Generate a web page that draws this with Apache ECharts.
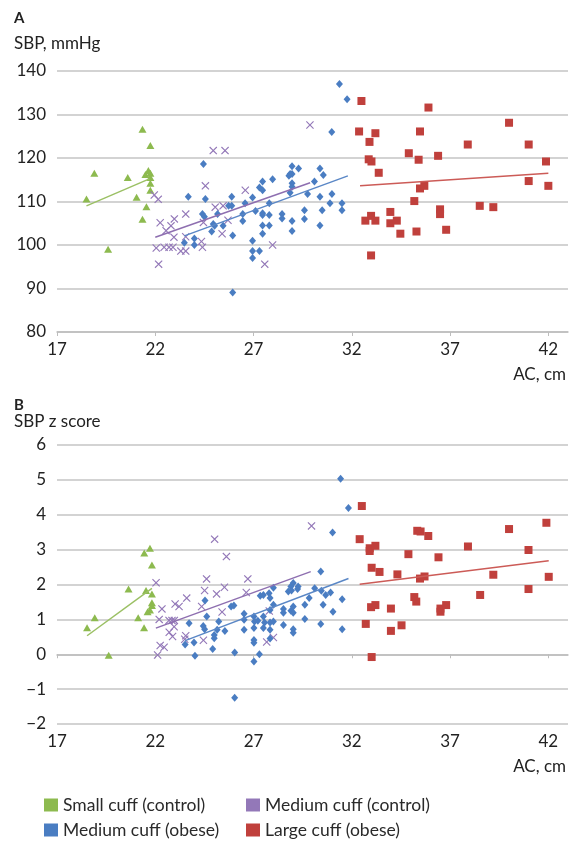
<!DOCTYPE html>
<html><head><meta charset="utf-8">
<script src="https://cdn.jsdelivr.net/npm/echarts@6/dist/echarts.min.js"></script>
<style>html,body{margin:0;padding:0;background:#fff}#c{width:582px;height:842px}</style>
</head><body><div id="c"></div>
<script>
// ---------- categories / tick labels ----------
const groupNames = ['Small cuff (control)', 'Medium cuff (control)', 'Medium cuff (obese)', 'Large cuff (obese)'];
const xTicks = [17, 22, 27, 32, 37, 42];
const sbpTicks = [80, 90, 100, 110, 120, 130, 140];
const zTicks = [-2, -1, 0, 1, 2, 3, 4, 5, 6];

// ---------- Panel A: SBP, mmHg ----------
const smallA = [[18.5,110.6],[18.9,116.5],[19.6,99.0],[20.6,115.5],[21.05,111.0],[21.35,126.6],[21.35,105.9],[21.5,116.2],[21.55,108.8],[21.65,117.1],[21.75,122.9],[21.75,116.5],[21.75,115.5],[21.75,114.2],[21.75,112.6]];
const medCtrlA = [[21.95,111.5],[22.15,110.5],[22.05,99.3],[22.17,95.6],[22.25,105.1],[22.45,99.5],[22.55,103.3],[22.7,99.5],[22.8,104.4],[22.9,99.5],[22.95,101.8],[22.97,106.0],[23.3,98.6],[23.55,98.6],[23.55,107.1],[23.55,101.9],[24.35,100.8],[24.4,99.5],[24.45,105.2],[24.55,113.6],[24.95,121.7],[25.55,121.7],[25.05,108.7],[25.45,109.0],[25.4,102.6],[25.7,105.7],[26.58,112.6],[27.97,100.0],[27.57,95.6],[29.87,127.6]];
const medObA = [[23.48,100.5],[23.68,111.1],[23.99,101.5],[23.99,100.0],[24.4,107.1],[24.5,106.5],[24.45,118.6],[24.55,110.6],[24.87,103.1],[24.95,104.8],[25.02,104.4],[25.17,107.1],[25.45,104.4],[25.73,109.0],[25.89,109.0],[25.89,111.1],[25.94,102.2],[25.94,89.1],[26.45,107.1],[26.45,105.5],[26.57,109.6],[26.95,110.9],[26.95,101.0],[26.95,98.6],[26.95,97.0],[27.1,107.8],[27.3,98.6],[27.3,113.2],[27.46,114.6],[27.46,112.6],[27.46,107.3],[27.46,106.9],[27.46,104.5],[27.46,102.6],[27.8,109.6],[27.8,106.9],[27.8,104.5],[27.97,115.1],[28.45,107.1],[28.45,106.1],[28.8,115.9],[28.86,116.3],[28.96,116.3],[28.96,118.1],[29.29,117.6],[28.96,114.2],[28.96,113.4],[28.86,112.0],[28.96,105.5],[28.96,103.2],[29.59,108.0],[29.59,106.0],[29.75,111.7],[30.1,114.6],[30.38,117.6],[30.55,116.1],[30.38,111.1],[30.49,108.0],[30.38,104.5],[30.89,109.6],[30.99,111.7],[30.98,126.0],[31.37,137.0],[31.76,133.5],[31.5,109.6],[31.5,108.0]];
const largeA = [[32.49,133.1],[35.9,131.6],[32.37,126.1],[33.2,125.7],[32.9,123.7],[35.47,126.1],[40.0,128.1],[37.9,123.1],[41.0,123.1],[32.86,119.7],[33.0,119.2],[34.9,121.1],[35.4,119.6],[36.39,120.5],[41.88,119.2],[33.37,116.6],[35.47,113.0],[35.69,113.6],[41.0,114.7],[42.0,113.6],[35.18,110.1],[38.51,109.0],[39.2,108.7],[36.49,108.2],[36.49,107.1],[32.69,105.6],[32.98,106.7],[33.2,105.6],[33.96,107.6],[33.96,105.0],[34.29,105.6],[34.47,102.6],[35.29,103.1],[36.8,103.5],[32.98,97.6]];
const smallTrendA = [[18.5,109.0],[21.7,115.2]];
const medCtrlTrendA = [[22.0,101.8],[29.88,114.3]];
const medObTrendA = [[23.48,102.1],[31.8,115.9]];
const largeTrendA = [[32.42,113.6],[42.0,116.5]];

// ---------- Panel B: SBP z score ----------
const smallB = [[21.73,3.04],[21.44,2.90],[21.83,2.56],[20.64,1.87],[21.53,1.83],[21.83,1.73],[21.83,1.48],[21.83,1.40],[21.73,1.27],[21.61,1.22],[18.92,1.05],[21.13,1.05],[18.53,0.76],[21.43,0.76],[19.63,-0.03]];
const medCtrlB = [[22.04,2.05],[22.12,-0.02],[22.2,1.0],[22.25,0.25],[22.45,0.20],[22.34,1.30],[22.7,0.97],[22.85,0.97],[22.97,0.97],[22.96,0.79],[22.71,0.63],[22.88,0.51],[23.01,1.44],[23.21,1.37],[23.55,0.53],[23.5,0.43],[23.6,1.61],[24.36,1.37],[24.45,0.40],[24.51,1.83],[24.61,2.16],[25.02,3.30],[25.62,2.80],[25.12,1.73],[25.52,1.92],[25.4,1.21],[26.63,1.77],[26.71,2.16],[27.8,1.24],[27.67,0.35],[28.01,0.48],[29.95,3.68]];
const medObB = [[23.52,0.28],[23.72,0.89],[23.97,0.34],[24.02,-0.04],[24.44,0.81],[24.51,0.72],[24.53,1.54],[24.62,1.08],[24.92,0.15],[25.0,0.55],[25.0,0.46],[25.15,0.70],[25.23,0.94],[25.54,0.67],[25.86,1.37],[26.0,1.40],[26.04,0.05],[26.04,-1.25],[26.52,1.16],[26.52,0.99],[26.52,0.70],[27.02,1.08],[27.05,0.94],[27.02,0.75],[27.02,0.41],[27.02,0.33],[27.02,-0.21],[27.3,0.0],[27.22,0.96],[27.34,1.68],[27.5,1.70],[27.5,1.08],[27.56,0.91],[27.5,0.75],[27.79,1.75],[27.84,1.61],[27.84,1.27],[27.84,0.91],[27.84,0.70],[27.84,0.45],[28.01,1.91],[28.01,1.42],[28.01,0.94],[28.52,1.30],[28.52,1.19],[28.52,0.84],[28.77,1.80],[28.9,1.94],[28.93,1.83],[29.02,2.04],[29.27,1.94],[29.24,1.87],[28.9,1.25],[29.02,1.37],[29.02,1.19],[29.02,0.72],[29.02,0.62],[29.61,1.42],[29.61,1.01],[29.83,1.61],[30.11,1.89],[30.42,2.37],[30.45,1.82],[30.67,1.70],[30.92,1.77],[30.54,1.42],[30.42,0.87],[31.02,3.49],[31.04,1.22],[31.43,5.03],[31.83,4.19],[31.51,1.58],[31.51,0.72]];
const largeB = [[32.51,4.25],[32.4,3.30],[32.91,3.04],[32.91,2.96],[33.2,3.11],[33.01,2.48],[33.41,2.36],[34.32,2.29],[34.88,2.87],[35.33,3.54],[35.5,3.52],[35.89,3.39],[36.41,2.78],[35.47,2.17],[35.7,2.23],[37.91,3.09],[40.0,3.59],[41.9,3.77],[40.99,2.99],[39.2,2.28],[42.02,2.22],[38.53,1.70],[40.99,1.87],[35.18,1.64],[35.28,1.51],[36.51,1.31],[36.51,1.22],[36.8,1.41],[32.98,1.35],[33.2,1.41],[33.99,1.31],[32.71,0.87],[33.99,0.67],[34.53,0.83],[33.01,-0.08]];
const smallTrendB = [[18.53,0.53],[21.83,1.89]];
const medCtrlTrendB = [[22.03,0.75],[29.91,2.37]];
const medObTrendB = [[23.52,0.39],[31.83,2.17]];
const largeTrendB = [[32.4,2.01],[42.02,2.68]];

// ---------- styling ----------
const FONT = 'Lato';
const colors = ['#8DBA4F', '#9378B8', '#4A7DC2', '#C0403C'];
const trendColors = ['#9BC064', '#8E6FB0', '#5A87C6', '#CC5B57'];
const xPath = 'path://M0,1L1,0L5,4L9,0L10,1L6,5L10,9L9,10L5,6L1,10L0,9L4,5Z';
const symbols = ['triangle', xPath, 'diamond', 'rect'];
const symbolSizes = [[8,7], 8, [7,8], 8];

function xAxisCfg(gridIndex) {
  return {
    type: 'value', gridIndex, min: 17, max: 43, interval: 5,
    axisLine: { show: true, lineStyle: { color: '#BDBDBD', width: 1.5 } },
    axisTick: { show: true, customValues: xTicks, length: 4, inside: false, lineStyle: { color: '#BDBDBD', width: 1 } },
    axisLabel: { customValues: xTicks, margin: 9, fontFamily: FONT, fontSize: 17, color: '#222' },
    splitLine: { show: false }
  };
}
function yAxisCfg(gridIndex, min, max, interval, ticks) {
  return {
    type: 'value', gridIndex, min, max, interval,
    axisLine: { show: false }, axisTick: { show: false },
    axisLabel: { customValues: ticks, margin: 11, fontFamily: FONT, fontSize: 17, color: '#222',
      formatter: v => String(v).replace('-', '\u2212') },
    splitLine: { show: true, lineStyle: { color: '#C4C4C4', width: 1.5 } }
  };
}

const dataA = [smallA, medCtrlA, medObA, largeA];
const dataB = [smallB, medCtrlB, medObB, largeB];
const trendA = [smallTrendA, medCtrlTrendA, medObTrendA, largeTrendA];
const trendB = [smallTrendB, medCtrlTrendB, medObTrendB, largeTrendB];

const series = [];
[dataA, dataB].forEach((panel, p) => {
  panel.forEach((d, i) => {
    series.push({
      type: 'scatter', name: groupNames[i], xAxisIndex: p, yAxisIndex: p, data: d,
      symbol: symbols[i], symbolSize: symbolSizes[i],
      itemStyle: { color: colors[i], opacity: 1 }, z: 2
    });
  });
});
[trendA, trendB].forEach((panel, p) => {
  panel.forEach((d, i) => {
    series.push({
      type: 'line', name: 'trend' + p + i, xAxisIndex: p, yAxisIndex: p, data: d,
      showSymbol: false, symbol: 'none', silent: true,
      lineStyle: { color: trendColors[i], width: 1.5 }, z: 3
    });
  });
});

// legend: 2 columns x 2 rows
const legendPos = [[44, 796], [246, 796], [44, 821], [246, 821]];
const legends = [0, 1, 2, 3].map((gi, k) => ({
  left: legendPos[k][0], top: legendPos[k][1], itemWidth: 14, itemHeight: 13, selectedMode: false,
  padding: 0,
  data: [{ name: groupNames[gi], icon: 'rect' }],
  textStyle: { fontFamily: FONT, fontSize: 17.5, color: '#2a2a2a' }
}));

const textStyle = (extra) => Object.assign({ fontFamily: FONT, fontSize: 17, fill: '#222' }, extra);
const option = {
  animation: false,
  backgroundColor: '#fff',
  grid: [
    { left: 57, right: 14, top: 71, height: 261 },
    { left: 57, right: 14, top: 445, height: 279 }
  ],
  xAxis: [xAxisCfg(0), xAxisCfg(1)],
  yAxis: [yAxisCfg(0, 80, 140, 10, sbpTicks), yAxisCfg(1, -2, 6, 1, zTicks)],
  legend: legends,
  graphic: [
    { type: 'text', left: 14, top: 11, style: textStyle({ text: 'A', fontWeight: 'bold', fontSize: 15 }) },
    { type: 'text', left: 14, top: 35, style: textStyle({ text: 'SBP, mmHg' }) },
    { type: 'text', right: 16, top: 366, style: textStyle({ text: 'AC, cm' }) },
    { type: 'text', left: 14, top: 398, style: textStyle({ text: 'B', fontWeight: 'bold', fontSize: 15 }) },
    { type: 'text', left: 14, top: 413, style: textStyle({ text: 'SBP z score' }) },
    { type: 'text', right: 16, top: 758, style: textStyle({ text: 'AC, cm' }) }
  ],
  series
};
const chart = echarts.init(document.getElementById('c'));
chart.setOption(option);
</script>
</body></html>
